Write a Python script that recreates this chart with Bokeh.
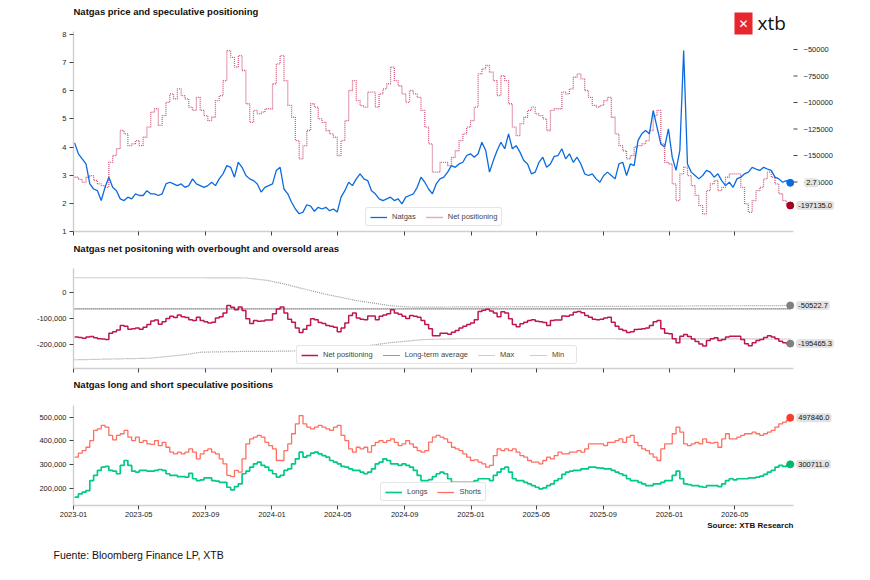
from datetime import datetime, timedelta
import pandas as pd
from bokeh.plotting import figure
from bokeh.core.properties import value
from bokeh.models import (Range1d, FixedTicker, NumeralTickFormatter,
                          DatetimeTickFormatter, Legend, LegendItem, Label)
from bokeh.layouts import column
from bokeh.embed import file_html
from bokeh.resources import INLINE

FONT = "Liberation Sans"

# ---------------- data (weekly, first week 2023-01-03) ----------------
first_week = "2023-01-03"

natgas_price = [
    4.15, 3.76, 3.58, 3.40, 2.69, 2.51, 2.45, 2.10, 2.57, 2.93,
    2.57, 2.45, 2.16, 2.10, 2.22, 2.16, 2.34, 2.28, 2.28, 2.45,
    2.34, 2.34, 2.28, 2.34, 2.69, 2.75, 2.69, 2.63, 2.69, 2.57,
    2.63, 2.87, 2.69, 2.63, 2.57, 2.63, 2.75, 2.63, 2.87, 3.05,
    3.34, 3.28, 2.93, 3.46, 3.28, 2.99, 2.87, 2.81, 2.69, 2.40,
    2.57, 2.63, 2.69, 3.17, 3.28, 2.51, 2.34, 2.04, 1.80, 1.63,
    1.69, 1.95, 1.90, 1.72, 1.86, 1.80, 1.86, 1.74, 1.80, 1.69,
    2.22, 2.45, 2.75, 2.63, 2.87, 3.05, 2.87, 2.81, 2.45, 2.34,
    2.16, 2.10, 2.16, 2.22, 2.10, 2.16, 1.98, 2.22, 2.28, 2.34,
    2.57, 2.93, 2.75, 2.51, 2.34, 2.69, 2.87, 2.93, 3.11, 3.34,
    3.28, 3.40, 3.46, 3.70, 3.76, 3.64, 3.76, 4.17, 3.88, 3.11,
    3.52, 3.88, 4.17, 3.94, 4.47, 3.94, 4.05, 3.82, 3.52, 3.40,
    3.05, 3.11, 3.46, 3.64, 3.28, 3.40, 3.67, 3.70, 3.94, 3.58,
    3.76, 3.46, 3.64, 3.40, 3.05, 2.99, 3.05, 2.87, 2.75, 2.99,
    3.11, 2.99, 2.87, 3.40, 3.46, 2.99, 3.40, 3.34, 4.23, 4.47,
    4.59, 4.47, 5.30, 4.71, 4.11, 4.00, 4.65, 3.64, 3.17, 3.88,
    7.43, 3.40, 3.11, 2.99, 2.87, 2.99, 3.17, 3.11, 2.93, 3.05,
    2.81, 2.63, 2.75, 2.57, 2.87, 2.93, 3.05, 3.11, 3.28, 3.22,
    3.17, 3.28, 3.22, 3.17, 2.93, 2.87, 2.75, 2.81, 2.73,
]

net_positioning = [
    -170500, -172600, -175200, -170500, -168900, -173600, -176800, -178400, -180000, -156400,
    -150000, -143600, -126400, -129600, -140700, -139100, -135900, -140700, -132800, -123200,
    -109100, -105900, -121600, -112300, -99800, -91900, -96600, -87100, -93500, -96600,
    -104400, -107500, -95100, -107500, -112300, -117100, -113900, -98200, -93500, -79400,
    -51000, -57400, -66600, -55800, -69800, -101200, -118700, -107500, -110700, -109100,
    -105900, -105900, -82300, -63500, -55800, -79400, -102800, -113900, -135900, -153200,
    -140700, -126400, -101200, -104400, -115500, -118700, -126400, -129600, -132800, -150000,
    -135900, -117100, -88700, -79400, -98200, -103000, -104400, -90300, -90300, -104400,
    -91900, -87100, -82300, -66600, -79400, -84200, -91900, -99800, -88700, -91900,
    -95100, -107500, -123200, -139100, -165700, -165700, -156400, -156400, -159600, -151900,
    -145500, -135900, -129600, -123200, -117100, -104400, -73000, -68200, -65100, -71400,
    -79400, -93500, -74600, -79400, -101200, -123200, -131200, -120000, -113900, -107500,
    -104400, -110700, -112300, -115500, -126400, -107500, -105900, -105900, -90300, -91900,
    -87100, -76200, -73000, -77800, -88700, -95100, -102800, -104400, -102800, -98200,
    -95100, -113900, -129600, -140700, -145500, -153200, -150000, -142000, -140700, -139100,
    -135900, -126400, -112300, -107500, -139100, -156400, -158000, -176800, -192500, -167300,
    -160900, -168900, -178400, -187700, -197300, -205000, -183200, -176800, -173600, -183200,
    -180000, -170500, -167300, -167300, -167300, -180000, -195700, -203600, -192500, -183200,
    -180000, -172000, -165700, -170500, -176800, -186100, -192500, -196200, -197135,
]

shorts = [
    331000, 348000, 359000, 373000, 401000, 444000, 451000, 465000, 458000, 423000,
    404000, 423000, 430000, 444000, 416000, 401000, 416000, 394000, 401000, 387000,
    385000, 401000, 380000, 394000, 373000, 352000, 345000, 352000, 345000, 352000,
    366000, 352000, 324000, 345000, 359000, 366000, 352000, 345000, 324000, 303000,
    254000, 249000, 275000, 268000, 324000, 387000, 408000, 416000, 423000, 416000,
    394000, 380000, 366000, 317000, 317000, 359000, 387000, 430000, 472000, 507000,
    472000, 458000, 451000, 458000, 465000, 458000, 451000, 444000, 458000, 465000,
    423000, 401000, 366000, 352000, 373000, 366000, 373000, 352000, 380000, 394000,
    401000, 394000, 401000, 408000, 394000, 380000, 387000, 401000, 387000, 373000,
    359000, 352000, 359000, 395000, 416000, 423000, 416000, 408000, 394000, 373000,
    366000, 359000, 345000, 331000, 317000, 320000, 310000, 303000, 289000, 296000,
    338000, 366000, 359000, 366000, 359000, 366000, 352000, 338000, 331000, 317000,
    310000, 310000, 303000, 317000, 331000, 324000, 338000, 352000, 345000, 345000,
    352000, 352000, 359000, 352000, 366000, 387000, 387000, 387000, 387000, 380000,
    394000, 394000, 401000, 408000, 394000, 416000, 423000, 394000, 380000, 366000,
    359000, 345000, 331000, 317000, 366000, 387000, 387000, 430000, 458000, 437000,
    387000, 380000, 387000, 394000, 387000, 408000, 394000, 390000, 394000, 373000,
    408000, 430000, 408000, 408000, 416000, 423000, 430000, 430000, 437000, 430000,
    423000, 430000, 437000, 444000, 458000, 472000, 479000, 486000, 497846,
]

longs = [
    162000, 176000, 183000, 190000, 232000, 254000, 275000, 289000, 292000, 275000,
    272000, 261000, 296000, 317000, 296000, 272000, 268000, 275000, 275000, 272000,
    272000, 275000, 279000, 275000, 261000, 254000, 254000, 249000, 249000, 247000,
    263000, 240000, 232000, 235000, 244000, 244000, 232000, 230000, 225000, 225000,
    204000, 193000, 207000, 218000, 261000, 272000, 289000, 303000, 310000, 296000,
    289000, 275000, 261000, 247000, 254000, 275000, 282000, 303000, 324000, 352000,
    331000, 338000, 348000, 352000, 345000, 338000, 331000, 317000, 310000, 303000,
    292000, 289000, 282000, 275000, 275000, 268000, 261000, 268000, 282000, 303000,
    310000, 324000, 317000, 303000, 303000, 296000, 303000, 296000, 289000, 275000,
    254000, 232000, 232000, 236000, 249000, 261000, 268000, 261000, 240000, 225000,
    225000, 225000, 225000, 225000, 225000, 232000, 240000, 240000, 240000, 232000,
    254000, 268000, 282000, 289000, 268000, 240000, 232000, 232000, 225000, 218000,
    211000, 204000, 197000, 201000, 211000, 218000, 232000, 240000, 258000, 268000,
    272000, 275000, 275000, 282000, 282000, 289000, 289000, 286000, 285000, 282000,
    282000, 275000, 268000, 261000, 254000, 240000, 232000, 232000, 225000, 218000,
    211000, 211000, 218000, 218000, 225000, 232000, 232000, 254000, 272000, 240000,
    218000, 215000, 211000, 211000, 207000, 204000, 211000, 211000, 211000, 207000,
    218000, 232000, 240000, 235000, 240000, 240000, 240000, 244000, 244000, 247000,
    251000, 258000, 268000, 275000, 289000, 296000, 292000, 296000, 300711,
]

# overbought / oversold bands (panel 2)
band_dates = ["2023-01-03", "2023-05-22", "2023-07-23", "2023-08-24", "2023-11-15",
              "2023-12-23", "2024-01-22", "2024-04-05", "2024-06-05", "2024-08-05",
              "2024-09-05", "2024-10-05", "2024-12-05", "2025-09-01", "2026-08-11"]
max_band = [55000, 55000, 55000, 55000, 54000,
            45000, 32000, -6000, -32000, -51000,
            -56000, -57000, -56000, -54000, -50522.7]
min_band = [-257000, -251000, -238000, -228000, -225000,
            -225000, -224000, -222000, -209000, -192000,
            -186000, -180000, -177000, -177000, -178000]
avg_dates = ["2023-01-03", "2026-08-11"]
long_term_avg = [-63500, -63500]
net_panel2_last = -195465.3

tick_months = ["2023-01-01", "2023-05-01", "2023-09-01", "2024-01-01", "2024-05-01",
               "2024-09-01", "2025-01-01", "2025-05-01", "2025-09-01", "2026-01-01",
               "2026-05-01"]
price_ticks = [1, 2, 3, 4, 5, 6, 7, 8]
net_right_ticks = [-175000, -150000, -125000, -100000, -75000, -50000]
net_ticks = [-200000, -100000, 0]
pos_ticks = [200000, 300000, 400000, 500000]

# ---------------- layout constants ----------------
dates = pd.date_range(first_week, periods=len(natgas_price), freq="7D")
band_dt = pd.to_datetime(band_dates)
avg_dt = pd.to_datetime(avg_dates)
last_dt = dates[-1]
last_ms = last_dt.timestamp() * 1000.0
tick_ms = [pd.Timestamp(t).timestamp() * 1000.0 for t in tick_months]

FRAME_W = 795            # frame spans x 73..868 (end labels live inside it)
AXIS_W = 720             # visible axis spans x 73..793
X_START = datetime(2023, 1, 1)
AXIS_END = datetime(2026, 8, 17)
X_END = X_START + (AXIS_END - X_START) * (FRAME_W / AXIS_W)


def style_axis(ax):
    ax.axis_line_color = "#cfcfcf"
    ax.axis_line_width = 1.4
    ax.major_tick_line_color = "#444444"
    ax.major_tick_line_width = 1
    ax.major_tick_out = 4
    ax.major_tick_in = 0
    ax.minor_tick_line_color = None
    ax.major_label_text_font = FONT
    ax.major_label_text_font_size = "7.5px"
    ax.major_label_text_color = "#222222"
    ax.major_label_standoff = 3


def make_fig(frame_h, bottom, y0, y1, bounds):
    p = figure(x_axis_type="datetime", width=73 + FRAME_W, frame_width=FRAME_W,
               frame_height=frame_h,
               x_range=Range1d(X_START, X_END), y_range=Range1d(y0, y1),
               min_border_left=73, min_border_right=0,
               min_border_top=0, min_border_bottom=bottom,
               output_backend="svg", toolbar_location=None,
               background_fill_color="white", border_fill_color="white",
               outline_line_color=None)
    p.xgrid.grid_line_color = None
    p.ygrid.grid_line_color = None
    fmt = "%Y-%m"
    p.xaxis.ticker = FixedTicker(ticks=tick_ms)
    p.xaxis.formatter = DatetimeTickFormatter(
        microseconds=fmt, milliseconds=fmt, seconds=fmt, minsec=fmt, minutes=fmt,
        hourmin=fmt, hours=fmt, days=fmt, months=fmt, years=fmt)
    for ax in p.xaxis:
        style_axis(ax)
        ax.bounds = (X_START, AXIS_END)
    for ax in p.yaxis:
        style_axis(ax)
        ax.bounds = bounds
    return p


def hide_x_labels(p):
    for ax in p.xaxis:
        ax.major_label_text_color = None
        ax.major_label_text_font_size = "1px"
        ax.major_label_standoff = 0


def screen_text(p, x, y, text, size, bold=False, align="left", color="#111111", font=FONT):
    p.add_layout(Label(x=x, y=y, x_units="screen", y_units="screen", text=text,
                       text_font=font, text_font_size=size,
                       text_font_style="bold" if bold else "normal",
                       text_align=align, text_baseline="middle", text_color=color))


def end_marker(p, yval, text, dot_color, range_name="default", xoff=6):
    p.scatter([last_dt], [yval], size=7, color=dot_color, y_range_name=range_name)
    p.add_layout(Label(x=last_ms, y=yval, x_offset=xoff, text=text, y_range_name=range_name,
                       text_font=FONT, text_font_size="7.5px", text_color="#111111",
                       text_baseline="middle", background_fill_color="#e3e3e3",
                       background_fill_alpha=1.0, padding=2, border_radius=3))


def make_legend(p, items, loc):
    leg = Legend(items=items, location=loc, orientation="horizontal",
                 label_text_font=FONT, label_text_font_size="7.5px",
                 label_height=8, glyph_height=8, glyph_width=17, label_standoff=5,
                 spacing=10, padding=4, margin=0,
                 border_line_color="#cccccc", border_line_width=1,
                 background_fill_color="white", background_fill_alpha=1.0)
    if "border_radius" in leg.properties():
        leg.border_radius = 3
    p.add_layout(leg)


# ---------------- panel 1 (frame y 0..231) ----------------
p1 = make_fig(231, 8, 1, 9.208, (1, 8.107))
hide_x_labels(p1)
p1.extra_y_ranges = {"net": Range1d(-221698, -3773)}
p1.yaxis.ticker = FixedTicker(ticks=price_ticks)
r_net1 = p1.step(dates, net_positioning, mode="after", y_range_name="net",
                 line_color="#cc4a6e", line_width=1.3, line_dash="1 1", line_alpha=0.9)
r_price = p1.line(dates, natgas_price, line_color="#0a6be0", line_width=1.3)
# right-hand axis for net positioning (ticks + labels at the axis end)
axis_end_list = [AXIS_END] * len(net_right_ticks)
p1.ray(x=axis_end_list, y=net_right_ticks, length=4, length_units="screen", angle=0,
       line_color="#444444", line_width=1, y_range_name="net")
p1.text(x=axis_end_list, y=net_right_ticks,
        text=["\u2212" + str(abs(t)) for t in net_right_ticks],
        x_offset=10, y_range_name="net", text_font=value(FONT),
        text_font_size=value("7.5px"), text_color="#222222", text_baseline="middle")
end_marker(p1, natgas_price[-1], f"{natgas_price[-1]:.1f}", "#0a6be0", xoff=14)
end_marker(p1, net_positioning[-1], f"{net_positioning[-1]:.1f}", "#a3001e", "net")
make_legend(p1, [LegendItem(label="Natgas", renderers=[r_price]),
                 LegendItem(label="Net positioning", renderers=[r_net1])], (292, 5))
screen_text(p1, 0, 220, "Natgas price and speculative positioning", "9.5px", bold=True)
# logo
p1.add_layout(Label(x=670, y=208, x_units="screen", y_units="screen", text="\u2715",
                    text_font="DejaVu Sans", text_font_size="12px", text_font_style="bold",
                    text_color="white", text_align="center", text_baseline="middle",
                    background_fill_color="#e8262d", background_fill_alpha=1.0, padding=4))
screen_text(p1, 684, 209, "xtb", "19px", font="Open Sans", color="#111111")

# ---------------- panel 2 (frame y 239..368) ----------------
p2 = make_fig(129, 8, -290100, 200400, (-290100, 90100))
hide_x_labels(p2)
r_max = p2.line(band_dt, max_band, line_color="#9a9a9a", line_width=1.2, line_dash="1 1")
r_min = p2.line(band_dt, min_band, line_color="#9a9a9a", line_width=1.2, line_dash="1 1")
r_avg = p2.line(avg_dt, long_term_avg, line_color="#333333", line_width=1.2, line_dash="1 1")
r_net2 = p2.step(dates, net_positioning, mode="after", line_color="#c0174b", line_width=1.5)
p2.yaxis.ticker = FixedTicker(ticks=net_ticks)
p2.yaxis.formatter = NumeralTickFormatter(format="0,0")
end_marker(p2, max_band[-1], f"{max_band[-1]:.1f}", "#808080")
end_marker(p2, net_panel2_last, f"{net_panel2_last:.1f}", "#808080")
make_legend(p2, [LegendItem(label="Net positioning", renderers=[r_net2]),
                 LegendItem(label="Long-term average", renderers=[r_avg]),
                 LegendItem(label="Max", renderers=[r_max]),
                 LegendItem(label="Min", renderers=[r_min])], (223, 4))
screen_text(p2, 0, 120, "Natgas net positoning with overbought and oversold areas", "9.5px", bold=True)

# ---------------- panel 3 (frame y 376..505) ----------------
p3 = make_fig(129, 15, 126900, 671900, (126900, 549400))
for ax in p3.xaxis:
    ax.major_label_standoff = 2
r_long = p3.step(dates, longs, mode="after", line_color="#00c98b", line_width=1.7)
r_short = p3.step(dates, shorts, mode="after", line_color="#ff6f61", line_width=1.3)
p3.yaxis.ticker = FixedTicker(ticks=pos_ticks)
p3.yaxis.formatter = NumeralTickFormatter(format="0,0")
end_marker(p3, shorts[-1], f"{shorts[-1]:.1f}", "#ff3b30")
end_marker(p3, longs[-1], f"{longs[-1]:.1f}", "#00b86b")
make_legend(p3, [LegendItem(label="Longs", renderers=[r_long]),
                 LegendItem(label="Shorts", renderers=[r_short])], (307, 4))
screen_text(p3, 0, 121, "Natgas long and short speculative positions", "9.5px", bold=True)

# ---------------- footer strip ----------------
p4 = figure(width=73 + FRAME_W, height=58, x_range=Range1d(0, 1), y_range=Range1d(0, 1),
            x_axis_location=None, y_axis_location=None, min_border=0,
            output_backend="svg", toolbar_location=None, outline_line_color=None,
            background_fill_color="white", border_fill_color="white")
p4.xgrid.grid_line_color = None
p4.ygrid.grid_line_color = None
if "frame_align" in p4.properties():
    p4.frame_align = False
    x_shift = 0
else:
    x_shift = -73
screen_text(p4, 793 + x_shift, 53, "Source: XTB Research", "8px", bold=True, align="right")
screen_text(p4, 53 + x_shift, 24, "Fuente: Bloomberg Finance LP, XTB", "10.5px", color="#111111")

layout = column(p1, p2, p3, p4, spacing=0)
open("out.html", "w").write(file_html(layout, INLINE))
